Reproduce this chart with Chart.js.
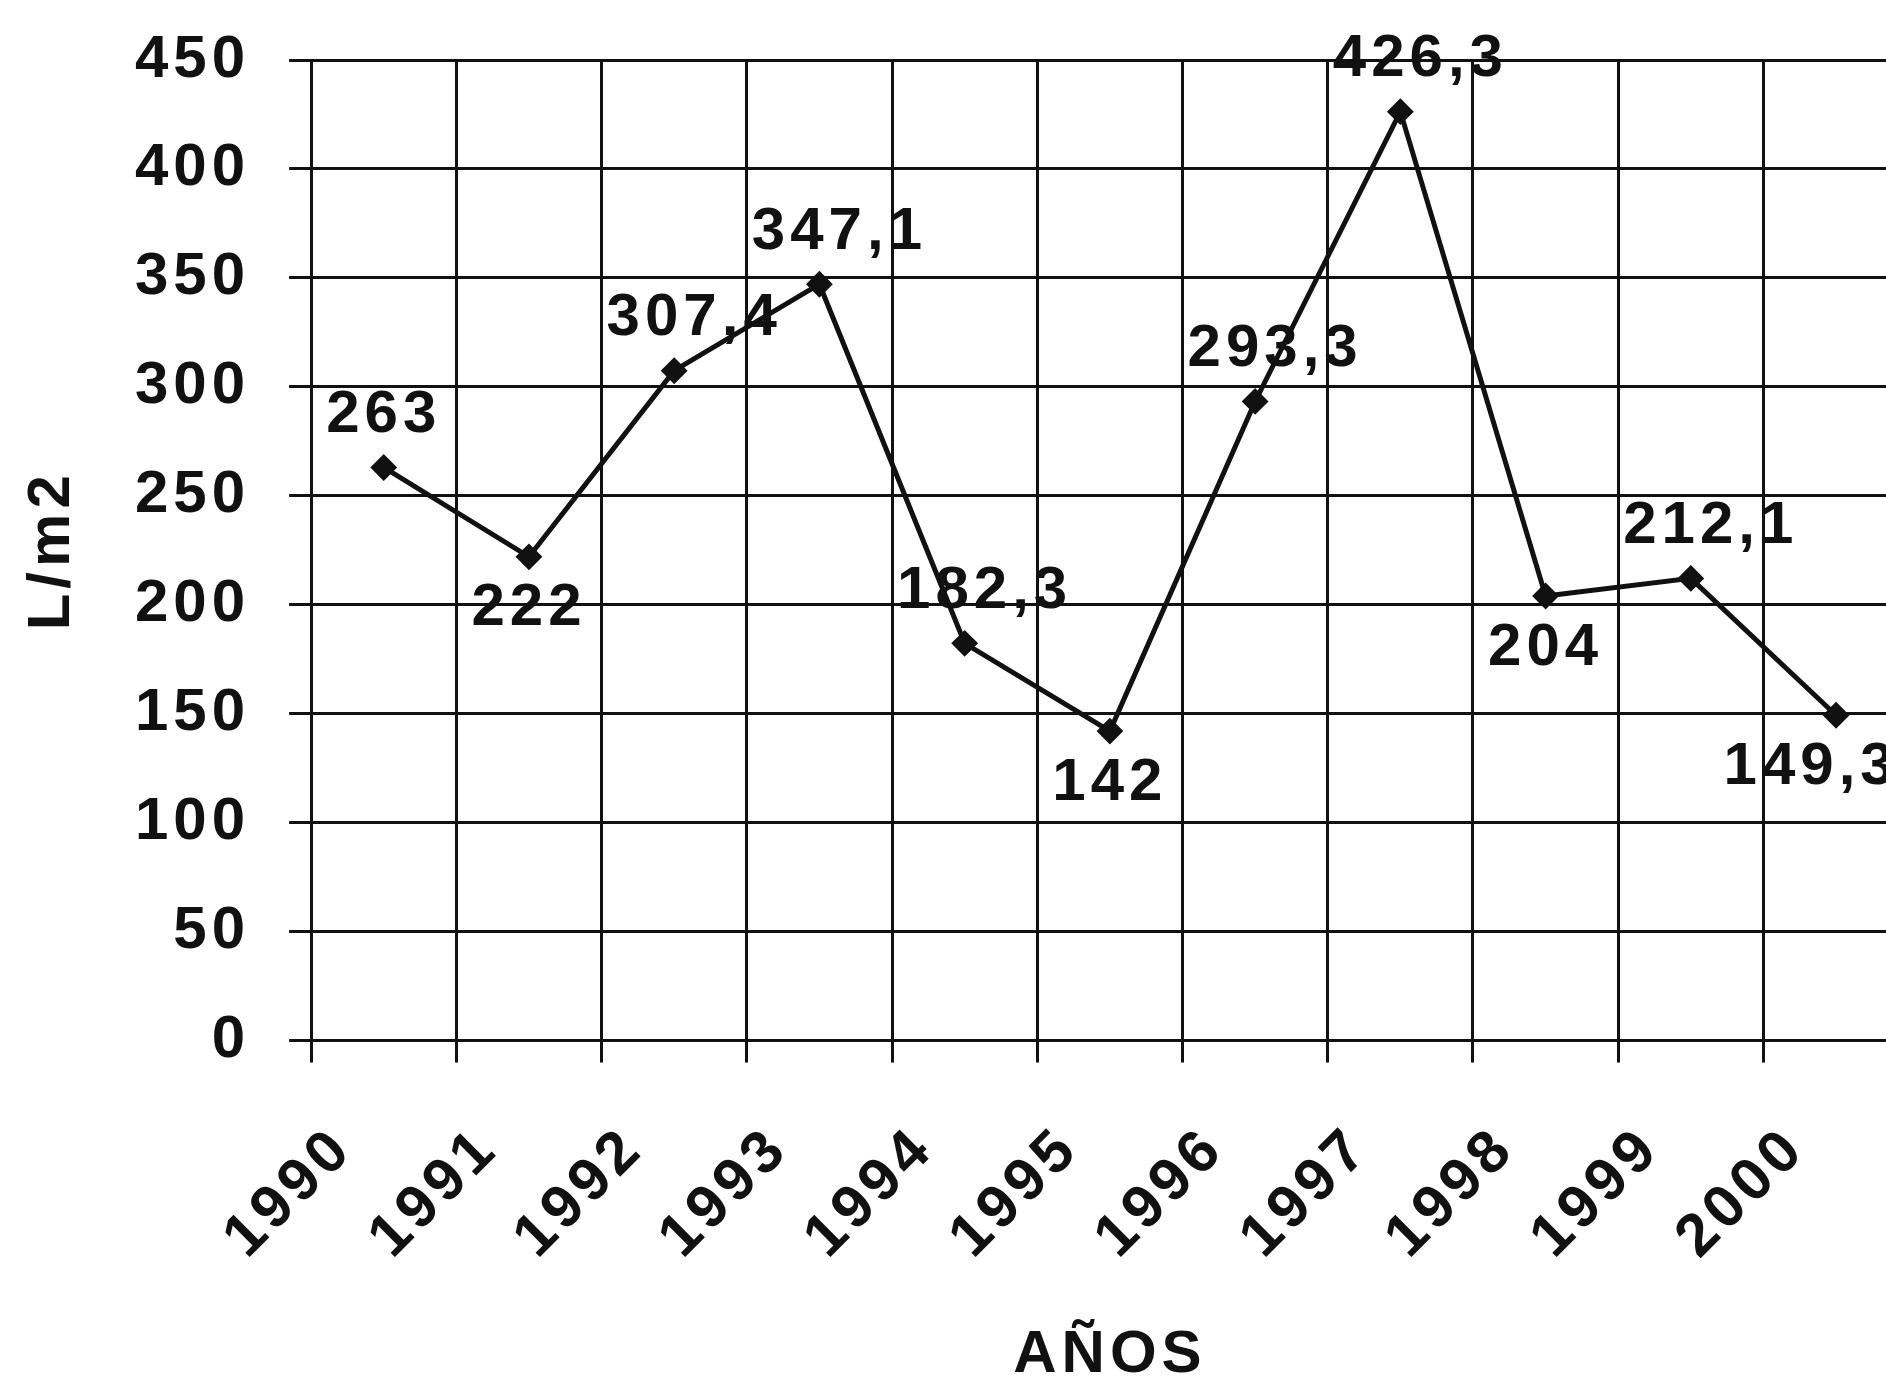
<!DOCTYPE html>
<html lang="es">
<head>
<meta charset="utf-8">
<title>L/m2 por años</title>
<script src="https://cdn.jsdelivr.net/npm/chart.js@4/dist/chart.umd.min.js"></script>
<style>
  html, body { margin: 0; padding: 0; background: #fff; overflow: hidden; }
  #wrap { width: 1930px; height: 1381px; }
</style>
</head>
<body>
<div id="wrap"><canvas id="lluviaChart" width="1930" height="1381"></canvas></div>
<script>
const YEARS = ['1990', '1991', '1992', '1993', '1994', '1995', '1996', '1997', '1998', '1999', '2000'];
const RAINFALL = [263, 222, 307.4, 347.1, 182.3, 142, 293.3, 426.3, 204, 212.1, 149.3];

const Y_MIN = 0;
const Y_MAX = 450;
const Y_STEP = 50;

const Y_TITLE = 'L/m2';
const X_TITLE = 'AÑOS';

const INK = '#111';
const FONT_FAMILY = '"Liberation Sans", Arial, Helvetica, sans-serif';
const FONT_SIZE = 60;
const LETTER_SPACING = '5px';
const LABEL_GAP = 52;
const DECIMAL_SHIFT = 20;
const LABEL_EDGE = 10;

const canvas = document.getElementById('lluviaChart');

function formatValue(value) {
  return String(value).replace('.', ',');
}

// label goes under the point when it sits in a dip of the line
function isDip(index) {
  const value = RAINFALL[index];
  const prev = RAINFALL[index - 1];
  const next = RAINFALL[index + 1];
  if (prev === undefined) {
    return false;
  }
  return value < prev && (next === undefined || value < next);
}

const letterSpacingPlugin = {
  id: 'letterSpacing',
  beforeLayout(chart) {
    chart.ctx.letterSpacing = LETTER_SPACING;
  },
  beforeDraw(chart) {
    chart.ctx.letterSpacing = LETTER_SPACING;
  },
};

const valueLabelsPlugin = {
  id: 'valueLabels',
  afterDatasetsDraw(chart) {
    const { ctx, chartArea } = chart;
    const points = chart.getDatasetMeta(0).data;

    ctx.save();
    ctx.letterSpacing = LETTER_SPACING;
    ctx.font = `bold ${FONT_SIZE}px ${FONT_FAMILY}`;
    ctx.fillStyle = INK;
    ctx.textAlign = 'center';
    ctx.textBaseline = 'middle';
    points.forEach((point, i) => {
      const text = formatValue(RAINFALL[i]);
      const halfWidth = ctx.measureText(text).width / 2;
      let x = text.includes(',') ? point.x + DECIMAL_SHIFT : point.x;
      // keep the label inside the plot on the right side
      x = Math.min(x, chartArea.right - LABEL_EDGE - halfWidth);
      const y = isDip(i) ? point.y + LABEL_GAP : point.y - LABEL_GAP;
      ctx.fillText(text, x, y);
    });
    ctx.restore();
  },
};

const tickFont = { family: FONT_FAMILY, size: FONT_SIZE, weight: 'bold', lineHeight: 0.7 };
const yearFont = { family: FONT_FAMILY, size: FONT_SIZE, weight: 'bold', lineHeight: 0.8 };
const titleFont = { family: FONT_FAMILY, size: FONT_SIZE, weight: 'bold', lineHeight: 0.85 };

new Chart(canvas, {
  type: 'line',
  data: {
    labels: YEARS,
    datasets: [
      {
        label: Y_TITLE,
        data: RAINFALL,
        borderColor: INK,
        backgroundColor: INK,
        borderWidth: 5,
        tension: 0,
        pointStyle: 'rectRot',
        pointRadius: 12,
        pointBorderWidth: 2,
        pointBackgroundColor: INK,
        pointBorderColor: INK,
      },
    ],
  },
  options: {
    responsive: false,
    devicePixelRatio: 1,
    animation: false,
    layout: {
      autoPadding: false,
      padding: { top: 40, left: 27, right: 0, bottom: 0 },
    },
    plugins: {
      legend: { display: false },
      tooltip: { enabled: false },
    },
    scales: {
      x: {
        type: 'category',
        offset: true,
        grid: {
          offset: true,
          color: INK,
          lineWidth: 3,
          drawTicks: true,
          tickLength: 22,
          tickColor: INK,
        },
        border: { color: INK, width: 3 },
        ticks: {
          color: INK,
          font: yearFont,
          minRotation: 45,
          maxRotation: 45,
          autoSkip: false,
          padding: 60,
          labelOffset: -40,
        },
        title: {
          display: true,
          text: X_TITLE,
          color: INK,
          font: titleFont,
          padding: { top: 5, bottom: 0 },
        },
      },
      y: {
        min: Y_MIN,
        max: Y_MAX,
        grid: {
          color: INK,
          lineWidth: 3,
          drawTicks: true,
          tickLength: 22,
          tickColor: INK,
        },
        border: { color: INK, width: 3 },
        ticks: {
          stepSize: Y_STEP,
          color: INK,
          font: tickFont,
          padding: 39,
        },
        title: {
          display: true,
          text: Y_TITLE,
          color: INK,
          font: titleFont,
          padding: { top: 0, bottom: 18 },
        },
      },
    },
  },
  plugins: [letterSpacingPlugin, valueLabelsPlugin],
});
</script>
</body>
</html>
